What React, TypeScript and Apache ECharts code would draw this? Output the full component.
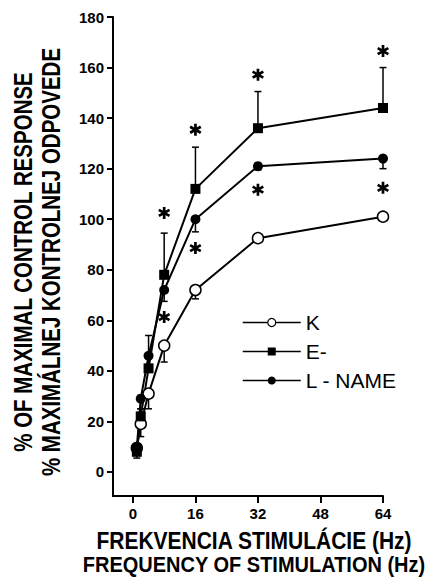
import React, { useEffect, useRef } from 'react';
import * as echarts from 'echarts';

// ---- data ----
const frequencies = [1, 2, 4, 8, 16, 32, 64];
const kValues = [9.5, 19, 31, 50, 72, 92.5, 101];
const eValues = [8, 22, 41, 78, 112, 136, 144];
const lValues = [10, 29, 46, 72, 100, 121, 124];
// error bars: K and L-NAME drawn downward, E- upward
const kErrors = [3, 5, 6, 6.5, 3.5, 1, 1];
const eErrors = [2, 3, 13, 16.5, 16.5, 14.5, 16];
const lErrors = [4.5, 4, 4, 4.5, 5, 1.5, 4];
// significance asterisks
const starFreqs = [8, 16, 32, 64];
const eStarLevels = [102.5, 135.4, 157.2, 166.5];
const lStarLevels = [61.3, 88.6, 111.7, 112.4];
// tick labels
const yTicks = [0, 20, 40, 60, 80, 100, 120, 140, 160, 180];
const xTicks = [0, 16, 32, 48, 64];

const seriesNames = ['K', 'E-', 'L - NAME'];
const yTitleLines = ['% OF MAXIMAL CONTROL RESPONSE', '% MAXIMÁLNEJ KONTROLNEJ ODPOVEDE'];
const xTitleLines = ['FREKVENCIA STIMULÁCIE (Hz)', 'FREQUENCY OF STIMULATION (Hz)'];

const FONT = '"Liberation Sans", Arial, Helvetica, sans-serif';

// six-armed asterisk shape
const STAR_PATH =
  'path://M-1.1,-5L1.1,-5L1.1,5L-1.1,5Z' +
  'M3.78,3.45L-4.88,-1.55L-3.78,-3.45L4.88,1.55Z' +
  'M-4.88,1.55L3.78,-3.45L4.88,-1.55L-3.78,3.45Z';

function errorData(vals: number[], errs: number[], dir: number) {
  return frequencies.map((f, i) => [f, vals[i], vals[i] + dir * errs[i]]);
}

const errorRender = (params: any, api: any) => {
  const x = api.value(0);
  const y = api.value(1);
  const e = api.value(2);
  const p0 = api.coord([x, y]);
  const p1 = api.coord([x, e]);
  const hw = 3.5;
  const st = { stroke: '#000', lineWidth: 1.5 };
  return {
    type: 'group',
    children: [
      { type: 'line', shape: { x1: p0[0], y1: p0[1], x2: p1[0], y2: p1[1] }, style: st },
      { type: 'line', shape: { x1: p1[0] - hw, y1: p1[1], x2: p1[0] + hw, y2: p1[1] }, style: st },
    ],
  };
};

export default function App() {
  const ref = useRef<HTMLDivElement>(null);

  useEffect(() => {
    if (!ref.current) return;
    const chart = echarts.init(ref.current, null, { renderer: 'svg' });

    const lineBase = {
      type: 'line',
      z: 3,
      lineStyle: { color: '#000', width: 2 },
      symbolSize: 10,
      showSymbol: true,
    };

    const titleText = (text: string, x: number, y: number, size: number, rot: number, sy: number) => ({
      type: 'text',
      x,
      y,
      rotation: rot,
      scaleY: sy,
      style: {
        text,
        fill: '#000',
        font: `bold ${size}px ${FONT}`,
        textAlign: 'center',
        textVerticalAlign: 'middle',
        align: 'center',
        verticalAlign: 'middle',
      },
    });

    const option: any = {
      animation: false,
      backgroundColor: '#fff',
      grid: { left: 113, right: 47, top: 17, bottom: 84, containLabel: false, outerBoundsMode: 'none' },
      xAxis: {
        type: 'value',
        min: -5.1,
        max: 64,
        splitLine: { show: false },
        axisLine: { show: true, onZero: false, lineStyle: { color: '#000', width: 2 } },
        axisTick: { show: true, customValues: xTicks, length: 7, lineStyle: { color: '#000', width: 2 } },
        axisLabel: {
          customValues: xTicks,
          color: '#000',
          fontFamily: FONT,
          fontWeight: 'bold',
          fontSize: 15,
          margin: 10,
        },
      },
      yAxis: {
        type: 'value',
        min: -9.5,
        max: 180,
        splitLine: { show: false },
        axisLine: { show: true, onZero: false, lineStyle: { color: '#000', width: 2 } },
        axisTick: { show: true, customValues: yTicks, length: 6, lineStyle: { color: '#000', width: 2 } },
        axisLabel: {
          customValues: yTicks,
          color: '#000',
          fontFamily: FONT,
          fontWeight: 'bold',
          fontSize: 15,
          margin: 9,
        },
      },
      legend: {
        show: true,
        selectedMode: false,
        orient: 'vertical',
        left: 242,
        top: 308,
        padding: 0,
        itemGap: 0,
        itemWidth: 58,
        itemHeight: 10,
        textStyle: { color: '#000', fontFamily: FONT, fontSize: 21, lineHeight: 29 },
        lineStyle: { color: '#000', width: 1.5 },
        data: [
          { name: seriesNames[0], itemStyle: { color: '#fff', borderColor: '#000', borderWidth: 1.2 } },
          { name: seriesNames[1], itemStyle: { color: '#000', borderWidth: 0 } },
          { name: seriesNames[2], itemStyle: { color: '#000', borderWidth: 0 } },
        ],
      },
      graphic: [
        titleText(yTitleLines[0], 23, 262, 20.5, Math.PI / 2, 1.22),
        titleText(yTitleLines[1], 51, 262, 20.5, Math.PI / 2, 1.22),
        titleText(xTitleLines[0], 254, 541, 21, 0, 1.13),
        titleText(xTitleLines[1], 254, 565, 20, 0, 1.13),
      ],
      series: [
        {
          type: 'custom',
          name: 'errK',
          z: 2,
          renderItem: errorRender,
          encode: { x: 0, y: [1, 2] },
          data: errorData(kValues, kErrors, -1),
        },
        {
          type: 'custom',
          name: 'errE',
          z: 2,
          renderItem: errorRender,
          encode: { x: 0, y: [1, 2] },
          data: errorData(eValues, eErrors, 1),
        },
        {
          type: 'custom',
          name: 'errL',
          z: 2,
          renderItem: errorRender,
          encode: { x: 0, y: [1, 2] },
          data: errorData(lValues, lErrors, -1),
        },
        {
          ...lineBase,
          name: seriesNames[0],
          symbol: 'circle',
          symbolSize: 11,
          itemStyle: { color: '#fff', borderColor: '#000', borderWidth: 1.5, opacity: 1 },
          data: frequencies.map((f, i) => [f, kValues[i]]),
        },
        {
          ...lineBase,
          name: seriesNames[1],
          symbol: 'rect',
          symbolSize: 10,
          itemStyle: { color: '#000', opacity: 1 },
          data: frequencies.map((f, i) => [f, eValues[i]]),
        },
        {
          ...lineBase,
          name: seriesNames[2],
          symbol: 'circle',
          symbolSize: 10,
          itemStyle: { color: '#000', opacity: 1 },
          data: frequencies.map((f, i) => [f, lValues[i]]),
        },
        {
          type: 'scatter',
          name: 'starsE',
          z: 4,
          symbol: STAR_PATH,
          symbolSize: 12,
          itemStyle: { color: '#000', opacity: 1 },
          data: starFreqs.map((f, i) => [f, eStarLevels[i]]),
        },
        {
          type: 'scatter',
          name: 'starsL',
          z: 4,
          symbol: STAR_PATH,
          symbolSize: 12,
          itemStyle: { color: '#000', opacity: 1 },
          data: starFreqs.map((f, i) => [f, lStarLevels[i]]),
        },
      ],
    };

    chart.setOption(option);
    return () => chart.dispose();
  }, []);

  return (
    <div
      ref={ref}
      style={{ position: 'fixed', left: 0, top: 0, width: 430, height: 580, background: '#fff' }}
    />
  );
}
